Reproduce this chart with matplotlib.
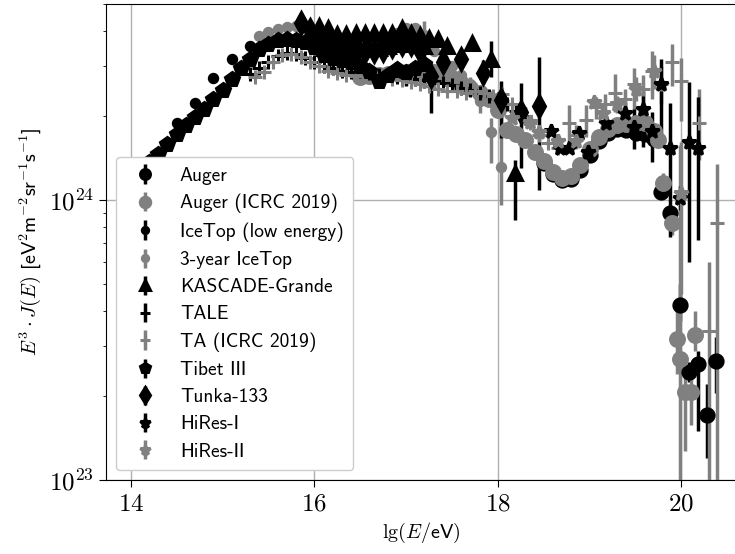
import matplotlib
matplotlib.use("Agg")
import matplotlib.pyplot as plt
import numpy as np
from matplotlib.ticker import FuncFormatter, NullFormatter, LogLocator, FixedLocator

plt.rcParams["mathtext.fontset"] = "cm"
plt.rcParams["axes.unicode_minus"] = False

SANS = "cmss10"
BLACK = "black"
GREY = "#808080"

# lg(E/eV), E^3 J(E) in 1e24 eV^2 m^-2 sr^-1 s^-1, errors (low, high) in same units
tibet_lg = [14.0, 14.1, 14.2, 14.3, 14.4, 14.5, 14.6, 14.7, 14.8, 14.9, 15.0, 15.1,
            15.2, 15.3, 15.4, 15.5, 15.6, 15.7, 15.8, 15.9, 16.0, 16.1, 16.2, 16.3,
            16.4, 16.5, 16.6, 16.7, 16.8, 16.9, 17.0, 17.1, 17.2]
tibet_f = [1.15, 1.27, 1.37, 1.46, 1.58, 1.72, 1.85, 1.98, 2.12, 2.30, 2.48, 2.70,
           2.95, 3.20, 3.45, 3.62, 3.72, 3.75, 3.72, 3.66, 3.52, 3.30, 3.22, 3.15,
           3.10, 3.02, 2.90, 2.66, 2.80, 2.93, 2.86, 2.95, 3.07]
tibet_lo = [0.02] * 29 + [0.30, 0.30, 0.25, 0.55]
tibet_hi = [0.02] * 29 + [0.05, 0.05, 0.05, 0.35]

icetop_low_lg = [14.5, 14.7, 14.9, 15.1, 15.3]
icetop_low_f = [1.88, 2.22, 2.72, 3.20, 3.56]
icetop_low_err = [0.03, 0.03, 0.04, 0.04, 0.05]

icetop3_lg = [15.4, 15.5, 15.6, 15.7, 15.8, 15.9, 16.0, 16.1, 16.2, 16.3, 16.4, 16.5,
              16.6, 16.7, 16.8, 16.9, 17.0, 17.1, 17.2, 17.3, 17.4, 17.5, 17.6, 17.7,
              17.8, 17.92, 18.03]
icetop3_f = [3.85, 3.98, 4.08, 4.15, 4.20, 4.18, 4.05, 3.85, 3.75, 3.72, 3.70, 3.70,
             3.70, 3.72, 3.75, 3.95, 4.10, 4.12, 3.90, 3.40, 3.20, 3.00, 2.80, 2.60,
             2.25, 1.75, 1.31]
icetop3_lo = [0.02] * 18 + [0.25, 0.1, 0.1, 0.1, 0.1, 0.15, 0.2, 0.39, 0.35]
icetop3_hi = [0.02] * 18 + [0.45, 0.1, 0.1, 0.1, 0.1, 0.15, 0.2, 0.21, 0.67]

kg_lg = [16.05, 16.15, 16.25, 16.35, 16.45, 16.55, 16.65, 16.75, 16.85, 16.95, 17.05,
         17.15, 17.25, 17.35, 17.45, 17.72, 17.92, 18.19,
         16.1, 16.2, 16.3, 16.4, 16.5, 16.6, 16.7, 16.8, 16.9, 17.0, 17.1, 17.2]
kg_f = [4.20, 4.12, 3.93, 3.93, 3.95, 3.95, 3.95, 3.95, 3.95, 4.10, 3.95,
        3.90, 3.80, 3.77, 3.56, 3.65, 3.20, 1.25,
        3.50, 3.45, 3.42, 3.42, 3.45, 3.50, 3.50, 3.55, 3.60, 3.62, 3.65, 3.55]
kg_lo = [0.03] * 15 + [0.15, 0.45, 0.40] + [0.03] * 12
kg_hi = [0.03] * 15 + [0.15, 0.50, 0.14] + [0.03] * 12

tale_lg = [15.3, 15.4, 15.5, 15.6, 15.7, 15.8, 15.9, 16.0, 16.1, 16.2, 16.3, 16.4,
           16.5, 16.6, 16.7, 16.8, 16.9, 17.0, 17.1, 17.2, 17.3, 17.4, 17.5, 17.6,
           17.7, 17.8, 17.9, 18.0, 18.1, 18.2, 18.3]
tale_f = [2.83, 2.95, 3.10, 3.28, 3.35, 3.33, 3.22, 3.10, 3.00, 2.95, 2.90, 2.86,
          2.88, 2.85, 2.80, 2.80, 2.76, 2.72, 2.70, 2.68, 2.66, 2.62, 2.57, 2.52,
          2.48, 2.42, 2.36, 2.30, 2.20, 2.08, 2.00]
tale_err = [0.03] * 27 + [0.08, 0.10, 0.12, 0.15]

ta_lg = [15.35, 15.45, 15.55, 15.65, 15.75, 15.85, 15.95, 16.05, 16.15, 16.25, 16.35,
         16.45, 16.55, 16.65, 16.75, 16.85, 16.95, 17.05, 17.15, 17.25, 17.35, 17.45,
         17.55, 17.65, 17.75, 17.85, 17.95, 18.05, 18.15, 18.25, 18.35, 18.45, 18.55,
         18.65, 18.77, 18.85, 18.96, 19.07, 19.17, 19.28, 19.38, 19.48, 19.58, 19.68,
         19.78, 19.9, 20.0, 20.19, 20.3, 20.39]
ta_f = [2.75, 2.86, 3.10, 3.30, 3.32, 3.25, 3.10, 3.00, 2.90, 2.85, 2.80,
        2.78, 2.80, 2.75, 2.72, 2.70, 2.68, 2.65, 2.60, 2.55, 2.50, 2.45,
        2.45, 2.42, 2.45, 2.42, 2.35, 2.40, 2.20, 2.00, 1.88, 1.70, 1.60,
        1.53, 1.88, 1.70, 1.93, 2.14, 2.20, 2.42, 2.30, 2.60, 2.50, 2.90,
        2.60, 3.10, 2.67, 1.89, 0.34, 0.83]
ta_lo = [0.03] * 34 + [0.35, 0.15, 0.25, 0.2, 0.2, 0.35, 0.2, 0.5, 0.3, 0.6,
                       0.4, 0.55, 0.75, 0.50, 0.24, 0.73]
ta_hi = [0.03] * 34 + [0.30, 0.15, 0.25, 0.2, 0.2, 0.40, 0.2, 0.35, 0.3, 0.5,
                       0.4, 0.50, 0.55, 0.60, 0.26, 0.52]

tunka_lg = [15.85, 15.95, 16.05, 16.15, 16.25, 16.35, 16.45, 16.55, 16.65, 16.75,
            16.85, 16.95, 17.05, 17.15, 17.27, 17.4, 17.6, 17.84, 18.03, 18.25, 18.45]
tunka_f = [4.30, 4.05, 3.78, 3.60, 3.50, 3.45, 3.42, 3.40, 3.40, 3.42,
           3.55, 3.60, 3.60, 3.40, 2.78, 3.10, 3.20, 2.85, 2.27, 2.06, 2.16]
tunka_lo = [0.03] * 14 + [0.73, 0.1, 0.25, 0.25, 0.60, 0.76, 1.07]
tunka_hi = [0.03] * 14 + [0.30, 0.1, 0.20, 0.30, 0.40, 0.55, 1.07]

auger_lg = [18.5, 18.6, 18.7, 18.8, 18.9, 19.0, 19.1, 19.2, 19.3, 19.4, 19.5, 19.6,
            19.7, 19.78, 19.88, 19.98, 20.08, 20.18, 20.28, 20.38]
auger_f = [1.36, 1.24, 1.18, 1.19, 1.28, 1.45, 1.62, 1.73, 1.80, 1.78, 1.73, 1.72,
           1.65, 1.07, 0.90, 0.42, 0.244, 0.26, 0.17, 0.265]
auger_lo = [0.02] * 13 + [0.05, 0.04, 0.05, 0.02, 0.11, 0.05, 0.06]
auger_hi = [0.02] * 13 + [0.05, 0.04, 0.08, 0.02, 0.03, 0.05, 0.06]

auger19_lg = [16.5, 16.6, 16.7, 16.8, 16.9, 17.0, 17.1, 17.2, 17.3, 17.4, 17.5, 17.6,
              17.7, 17.8, 17.9, 18.0, 18.1, 18.2, 18.3, 18.4, 18.5, 18.6, 18.7, 18.8,
              18.9, 19.0, 19.1, 19.2, 19.3, 19.4, 19.5, 19.6, 19.7, 19.75, 19.8, 19.9,
              19.95, 19.98, 20.04, 20.1, 20.15]
auger19_f = [2.75, 2.78, 2.80, 2.82, 2.85, 2.87, 2.88, 2.88, 2.86, 2.83, 2.72, 2.62,
             2.52, 2.42, 2.30, 2.10, 1.78, 1.72, 1.64, 1.48, 1.38, 1.26, 1.20, 1.22,
             1.33, 1.52, 1.68, 1.80, 1.85, 1.87, 1.88, 1.88, 1.76, 1.64, 1.15, 0.83,
             0.32, 0.27, 0.207, 0.207, 0.33]
auger19_lo = [0.02] * 34 + [0.1, 0.08, 0.08, 0.17, 0.08, 0.05, 0.04]
auger19_hi = [0.02] * 34 + [0.1, 0.08, 0.08, 1.30, 0.05, 0.05, 0.07]

hires1_lg = [18.58, 18.68, 18.78, 18.88, 18.98, 19.18, 19.38, 19.48, 19.58, 19.68,
             19.78, 19.88, 19.98, 20.08, 20.18]
hires1_f = [1.77, 1.54, 1.54, 1.73, 1.48, 1.88, 2.04, 1.82, 2.12, 1.77,
            2.60, 1.54, 1.02, 1.61, 1.53]
hires1_lo = [0.05, 0.05, 0.05, 0.05, 0.05, 0.1, 0.2, 0.3, 0.57, 0.4,
             1.0, 0.80, 0.1, 1.01, 0.81]
hires1_hi = [0.05, 0.05, 0.05, 0.05, 0.05, 0.1, 0.2, 0.3, 0.34, 0.3,
             0.6, 0.68, 0.1, 1.03, 0.80]

hires2_lg = [18.15, 18.35, 18.45, 18.65, 18.85, 19.05, 19.15, 19.3, 19.5, 19.7, 20.0]
hires2_f = [1.96, 1.90, 1.75, 1.62, 1.62, 2.23, 2.04, 2.20, 2.50, 2.90, 1.06]
hires2_lo = [0.05, 0.05, 0.05, 0.05, 0.1, 0.1, 0.1, 0.15, 0.25, 0.4, 0.6]
hires2_hi = [0.05, 0.05, 0.05, 0.05, 0.1, 0.1, 0.1, 0.15, 0.25, 0.4, 0.55]

series = [
    ("Auger", auger_lg, auger_f, auger_lo, auger_hi, "o", BLACK, 9.5),
    ("Auger (ICRC 2019)", auger19_lg, auger19_f, auger19_lo, auger19_hi, "o", GREY, 10),
    ("IceTop (low energy)", icetop_low_lg, icetop_low_f, icetop_low_err, icetop_low_err, "o", BLACK, 6),
    ("3-year IceTop", icetop3_lg, icetop3_f, icetop3_lo, icetop3_hi, "o", GREY, 6),
    ("KASCADE-Grande", kg_lg, kg_f, kg_lo, kg_hi, "^", BLACK, 10),
    ("TALE", tale_lg, tale_f, tale_err, tale_err, "+", BLACK, 10),
    ("TA (ICRC 2019)", ta_lg, ta_f, ta_lo, ta_hi, "+", GREY, 10),
    ("Tibet III", tibet_lg, tibet_f, tibet_lo, tibet_hi, "p", BLACK, 10.5),
    ("Tunka-133", tunka_lg, tunka_f, tunka_lo, tunka_hi, "d", BLACK, 11),
    ("HiRes-I", hires1_lg, hires1_f, hires1_lo, hires1_hi, "*", BLACK, 10),
    ("HiRes-II", hires2_lg, hires2_f, hires2_lo, hires2_hi, "*", GREY, 10),
]

fig = plt.figure(figsize=(7.35, 5.54), dpi=100)
ax = fig.add_axes([106 / 735, 74 / 554, 630.5 / 735, 475.7 / 554])

for label, lg, f, lo, hi, marker, color, ms in series:
    y = np.array(f) * 1e24
    yerr = [np.array(lo) * 1e24, np.array(hi) * 1e24]
    ax.errorbar(lg, y, yerr=yerr, fmt=marker, color=color, ms=ms, mew=2.2,
                elinewidth=2.5, capsize=0, label=label)

ax.set_yscale("log")
ax.set_xlim(13.73, 20.6)
ax.set_ylim(1e23, 5e24)

ax.xaxis.set_major_locator(FixedLocator([14, 16, 18, 20]))
ax.xaxis.set_major_formatter(FuncFormatter(lambda v, p: r"$%d$" % v))
ax.yaxis.set_major_locator(LogLocator(base=10))
ax.yaxis.set_major_formatter(FuncFormatter(lambda v, p: r"$10^{%d}$" % round(np.log10(v))))
ax.yaxis.set_minor_formatter(NullFormatter())
ax.tick_params(axis="both", which="major", labelsize=18, length=5)
ax.grid(True, which="major", color="#b0b0b0", linewidth=1.0)
ax.set_axisbelow(True)

ax.set_xlabel(r"$\mathrm{lg}(E/\mathsf{eV})$", fontsize=14.5)
ax.set_ylabel(r"$E^3 \cdot J(E)$ [eV$^2$m$^{-2}$sr$^{-1}$s$^{-1}$]",
              fontsize=14.5, family=SANS)

leg = ax.legend(loc="lower left", prop={"family": SANS, "size": 14},
                markerscale=0.75, framealpha=1.0, borderaxespad=0.5,
                labelspacing=0.47, borderpad=0.5)
leg.set_zorder(10)

fig.savefig("out.png", dpi=100)
